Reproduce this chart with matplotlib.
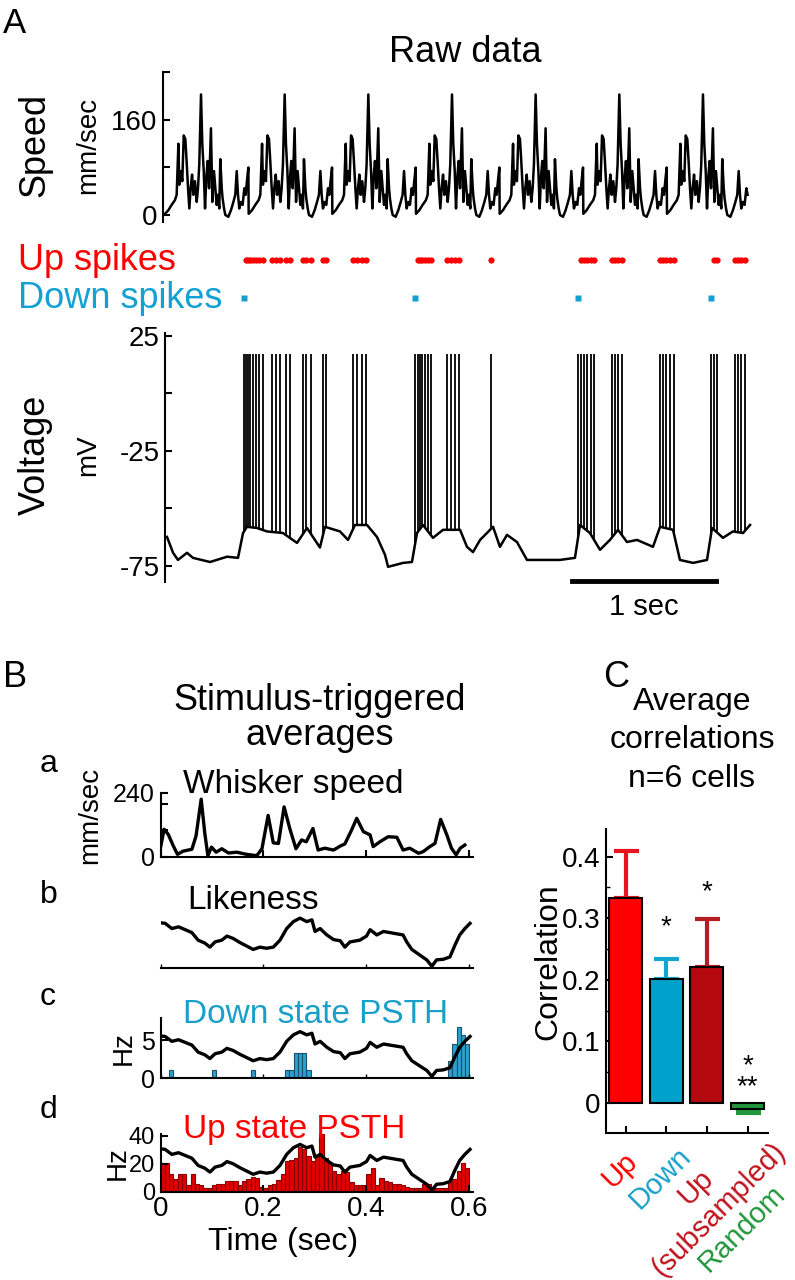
import numpy as np
import matplotlib
matplotlib.use("Agg")
import matplotlib.pyplot as plt

plt.rcParams['font.family'] = ['Liberation Sans', 'DejaVu Sans']

W, H = 795, 1280

# ---------------- panel A : raw data ----------------
# one stimulus cycle of whisker speed (time in cycle [s], mm/sec)
cycle_t = [0.000, 0.023, 0.046, 0.069, 0.081, 0.093, 0.099, 0.111, 0.120, 0.130,
           0.141, 0.150, 0.160, 0.169, 0.178, 0.188, 0.197, 0.208, 0.220, 0.229,
           0.238, 0.250, 0.259, 0.269, 0.278, 0.287, 0.296, 0.306, 0.319, 0.329,
           0.340, 0.350, 0.359, 0.368, 0.377, 0.384, 0.394, 0.400, 0.410, 0.419,
           0.440, 0.458, 0.475, 0.488, 0.498, 0.507, 0.516, 0.528, 0.539, 0.551,
           0.560, 0.569, 0.579]
cycle_speed = [2, 8, 17, 25, 34, 120, 51, 74, 57, 134,
               128, 91, 45, 11, 45, 68, 34, 57, 22, 45,
               85, 203, 120, 74, 11, 63, 91, 45, 146, 22,
               74, 45, 17, 34, 11, 94, 45, 28, 11, 0,
               -3, 8, 22, 34, 74, 34, 11, 22, 17, 45,
               34, 57, 80]
cycle_len = 0.581
n_cycles = 7
trace_end = 4.05

# membrane potential without the spikes (s, mV)
volt_t = [0.014, 0.056, 0.090, 0.153, 0.194, 0.313, 0.431, 0.507, 0.542, 0.569,
          0.639, 0.708, 0.819, 0.917, 0.986, 1.076, 1.111, 1.215, 1.271, 1.319,
          1.403, 1.472, 1.528, 1.549, 1.653, 1.715, 1.750, 1.792, 1.861, 1.931,
          2.049, 2.097, 2.139, 2.188, 2.278, 2.326, 2.375, 2.444, 2.514, 2.604,
          2.743, 2.847, 2.882, 2.951, 3.021, 3.090, 3.146, 3.208, 3.278, 3.389,
          3.438, 3.528, 3.576, 3.667, 3.764, 3.799, 3.875, 3.944, 4.014, 4.063]
volt_mv = [-62.4, -69.3, -72.4, -69.3, -71.5, -73.3, -71.0, -71.5, -60.7, -58.0,
           -58.5, -60.0, -60.7, -65.0, -58.5, -67.0, -58.0, -60.0, -63.7, -57.2,
           -57.2, -62.4, -70.2, -75.4, -73.7, -73.3, -60.7, -57.2, -62.8, -59.3,
           -59.3, -66.7, -69.0, -63.7, -58.0, -66.7, -61.5, -64.6, -72.4, -72.4,
           -72.4, -71.5, -57.2, -60.7, -68.0, -63.7, -59.3, -64.6, -63.7, -66.7,
           -58.0, -59.3, -72.4, -73.7, -72.4, -58.5, -62.8, -60.0, -60.7, -57.2]
down_spikes = [0.549, 1.736, 2.868, 3.792]
up_spikes = [0.562, 0.576, 0.590, 0.611, 0.632, 0.653, 0.681, 0.743, 0.771, 0.799,
             0.840, 0.868, 0.958, 0.979, 1.014, 1.097, 1.118, 1.306, 1.333, 1.368,
             1.396, 1.757, 1.771, 1.785, 1.806, 1.826, 1.847, 1.958, 1.986, 2.014,
             2.042, 2.264, 2.889, 2.910, 2.931, 2.958, 2.979, 3.104, 3.125, 3.146,
             3.174, 3.438, 3.458, 3.479, 3.507, 3.535, 3.813, 3.833, 3.958, 3.979,
             4.000, 4.028]
spike_peak = 17

# ---------------- panel B : stimulus-triggered averages ----------------
whisk_t = [0.000, 0.007, 0.015, 0.025, 0.033, 0.044, 0.061, 0.069, 0.079, 0.086,
           0.092, 0.099, 0.108, 0.119, 0.132, 0.148, 0.167, 0.187, 0.197, 0.209,
           0.219, 0.229, 0.240, 0.251, 0.263, 0.274, 0.283, 0.296, 0.306, 0.319,
           0.336, 0.349, 0.358, 0.371, 0.381, 0.394, 0.407, 0.413, 0.426, 0.442,
           0.459, 0.471, 0.484, 0.501, 0.510, 0.523, 0.533, 0.544, 0.556, 0.565,
           0.574, 0.582, 0.591]
whisk_speed = [35, 104, 85, 41, 10, 22, 29, 79, 217, 89,
               5, 37, 18, 31, 15, 18, 10, 5, 31, 156,
               53, 51, 188, 107, 31, 64, 57, 107, 26, 33,
               26, 41, 49, 101, 145, 95, 83, 39, 57, 76,
               74, 26, 33, 14, 20, 39, 51, 141, 83, 33,
               8, 33, 45]

like_t = [0.000, 0.009, 0.022, 0.035, 0.048, 0.061, 0.073, 0.086, 0.096, 0.106,
          0.119, 0.129, 0.141, 0.154, 0.167, 0.180, 0.193, 0.206, 0.219, 0.232,
          0.245, 0.258, 0.271, 0.284, 0.294, 0.300, 0.310, 0.323, 0.336, 0.349,
          0.358, 0.368, 0.387, 0.400, 0.407, 0.420, 0.433, 0.452, 0.471, 0.478,
          0.488, 0.504, 0.517, 0.527, 0.536, 0.549, 0.562, 0.572, 0.581, 0.591,
          0.601]
like_val = [0.78, 0.77, 0.68, 0.71, 0.66, 0.61, 0.48, 0.43, 0.36, 0.45,
            0.48, 0.55, 0.51, 0.44, 0.38, 0.32, 0.36, 0.34, 0.36, 0.48,
            0.68, 0.80, 0.86, 0.80, 0.83, 0.63, 0.68, 0.57, 0.49, 0.47,
            0.36, 0.45, 0.48, 0.55, 0.66, 0.57, 0.63, 0.60, 0.57, 0.45,
            0.32, 0.22, 0.14, 0.03, 0.14, 0.15, 0.19, 0.40, 0.57, 0.68,
            0.77]

bin_w = 1 / 120
down_psth = [0, 0, 1.0, 0, 0, 0, 0, 0, 0, 0,
             0, 0, 1.0, 0, 0, 0, 0, 0, 0, 0,
             0, 1.0, 0, 0, 0, 0, 0, 0, 0, 1.0,
             1.0, 3.3, 3.3, 3.3, 1.0, 0, 0, 0, 0, 0,
             0, 0, 0, 0, 0, 0, 0, 0, 0, 0,
             0, 0, 0, 0, 0, 0, 0, 0, 0, 0,
             0, 0, 0, 0, 0, 0, 0, 2.2, 4.5, 6.7,
             5.6, 4.5]
up_psth = [21, 21, 13, 9.5, 13, 13, 5, 13, 6, 5,
           3, 3, 5, 6, 6, 7.6, 7.6, 7.6, 5, 7.6,
           9.5, 10.7, 10, 3.6, 3, 5, 6, 8.3, 13, 22,
           23, 24, 32, 31, 26, 22, 26, 42, 24, 21,
           15, 13, 15, 14, 7, 5, 5, 5, 13, 17,
           5, 10, 8, 7, 6, 6, 5, 3.6, 3, 3,
           3, 6, 6, 3.6, 3, 3, 3, 7, 9.5, 15,
           21, 17]

# ---------------- panel C : average correlations ----------------
cat_labels = ["Up", "Down", "Up\n(subsampled)", "Random"]
corr_mean = [0.333, 0.201, 0.221, -0.010]
corr_err = [0.076, 0.033, 0.078, 0.006]
stars = ["", "*", "*", "*\n**"]
star_y = [0, 0.285, 0.342, 0.042]

RED = '#ff0000'
BLUE = '#00a2cc'
DARKRED = '#b4080e'
GREEN = '#22963c'

fig = plt.figure(figsize=(W / 100, H / 100), dpi=100)


def px_axes(l, t, r, b):
    return fig.add_axes([l / W, 1 - b / H, (r - l) / W, (b - t) / H])


def px_text(x, y, s, **kw):
    return fig.text(x / W, 1 - y / H, s, **kw)


def clean(ax, left=True, bottom=False, labelsize=20):
    for side in ['top', 'right']:
        ax.spines[side].set_visible(False)
    ax.spines['left'].set_visible(left)
    ax.spines['bottom'].set_visible(bottom)
    for sp in ax.spines.values():
        sp.set_linewidth(1.5)
    ax.tick_params(direction='in', length=5, width=1.5, labelsize=labelsize, pad=4)
    if not left:
        ax.set_yticks([])
    if not bottom:
        ax.set_xticks([])


# ---- A: speed
xl_a = (-0.0139, 4.132)
ax = px_axes(163, 70, 760, 222)
t_all = np.concatenate([np.array(cycle_t) + i * cycle_len for i in range(n_cycles)])
s_all = np.tile(cycle_speed, n_cycles)
keep = t_all <= trace_end
ax.plot(t_all[keep], s_all[keep], color='black', lw=1.8)
ax.set_xlim(*xl_a)
ax.set_ylim(-11.8, 244.2)
clean(ax)
ax.spines['left'].set_bounds(-11.8, 240)
ax.set_yticks([0, 80, 160, 240])
ax.set_yticklabels(['0', '', '160', ''])

# ---- A: spike rasters
ax = px_axes(163, 240, 760, 315)
ax.plot(up_spikes, np.ones(len(up_spikes)), 'o', color=RED, ms=4.5, mec='none')
ax.plot(down_spikes, np.zeros(len(down_spikes)), 's', color='#14a0d2', ms=4, mec='none')
ax.set_xlim(*xl_a)
ax.set_ylim(-0.447, 1.526)
ax.axis('off')

# ---- A: voltage
ax = px_axes(165, 333, 760, 582)
ax.plot(volt_t, volt_mv, color='black', lw=1.8)
spk = np.array(down_spikes + up_spikes)
ax.vlines(spk, np.interp(spk, volt_t, volt_mv), spike_peak, color='black', lw=1.3)
ax.plot([2.826, 3.826], [-81.5, -81.5], color='black', lw=3.5, clip_on=False)
ax.set_xlim(0, 4.132)
ax.set_ylim(-82, 26.3)
clean(ax)
ax.set_yticks([25, 0, -25, -50, -75])
ax.set_yticklabels(['25', '', '-25', '', '-75'])

px_text(3, 33, 'A', fontsize=25, va='baseline')
px_text(465, 52, 'Raw data', fontsize=26, ha='center', va='center')
px_text(35, 145, 'Speed', fontsize=26, rotation=90, ha='center', va='center')
px_text(88, 145, 'mm/sec', fontsize=20, rotation=90, ha='center', va='center')
px_text(18, 260, 'Up spikes', fontsize=26, color=RED, va='center')
px_text(18, 298, 'Down spikes', fontsize=26, color='#14a0d2', va='center')
px_text(35, 455, 'Voltage', fontsize=26, rotation=90, ha='center', va='center')
px_text(88, 455, 'mV', fontsize=20, rotation=90, ha='center', va='center')
px_text(644, 607, '1 sec', fontsize=21, ha='center', va='center')

# ---- B
xl_b = (0, 0.6068)
xt_b = [0, 0.2, 0.4, 0.6]
centers = (np.arange(len(up_psth)) + 0.5) * bin_w

ax = px_axes(160.5, 793, 473, 857)
ax.plot(whisk_t, whisk_speed, color='black', lw=2.4)
ax.set_xlim(*xl_b)
ax.set_ylim(0, 240)
clean(ax, bottom=True, labelsize=18)
ax.set_yticks([0, 100, 200, 240])
ax.set_yticklabels(['0', '', '', '240'])
ax.set_xticks(xt_b)
ax.set_xticklabels([])

ax = px_axes(160.5, 910, 473, 968)
ax.plot(like_t, like_val, color='black', lw=2.4)
ax.set_xlim(*xl_b)
ax.set_ylim(0, 1)
clean(ax, left=False, bottom=True)
ax.set_xticks(xt_b)
ax.set_xticklabels([])
ax.tick_params(axis='x', length=3, width=1)

ax = px_axes(160.5, 1018, 473, 1078)
ax.bar(centers, down_psth, width=bin_w, color='#2aa0cc', edgecolor='#1a4f70', lw=0.8)
ax.plot(like_t, np.array(like_val) * 7.1, color='black', lw=2.4)
ax.set_xlim(*xl_b)
ax.set_ylim(0, 7.9)
clean(ax, bottom=True, labelsize=18)
ax.set_yticks([0, 5])
ax.set_xticks(xt_b)
ax.set_xticklabels([])
ax.tick_params(axis='x', length=3, width=1)

ax = px_axes(160.5, 1134, 473, 1192)
ax.bar(centers, up_psth, width=bin_w, color='#e00000', edgecolor='#8a0000', lw=0.8)
ax.plot(like_t, np.array(like_val) * 39.5, color='black', lw=2.4)
ax.set_xlim(*xl_b)
ax.set_ylim(0, 41.4)
clean(ax, bottom=True, labelsize=17)
ax.set_yticks([0, 20, 40])
ax.set_xticks(xt_b)
ax.set_xticklabels(['0', '0.2', '0.4', '0.6'])
ax.tick_params(axis='x', labelsize=20, pad=3)

px_text(3, 687, 'B', fontsize=26, va='baseline')
px_text(320, 710, 'Stimulus-triggered', fontsize=26, ha='center', va='baseline')
px_text(320, 745, 'averages', fontsize=26, ha='center', va='baseline')
px_text(40, 772, 'a', fontsize=23, va='baseline')
px_text(40, 903, 'b', fontsize=23, va='baseline')
px_text(40, 1005, 'c', fontsize=23, va='baseline')
px_text(40, 1118, 'd', fontsize=23, va='baseline')
px_text(90, 815, 'mm/sec', fontsize=20, rotation=90, ha='center', va='center')
px_text(183, 793, 'Whisker speed', fontsize=24, va='baseline')
px_text(187, 909, 'Likeness', fontsize=24, va='baseline')
px_text(183, 1023, 'Down state PSTH', fontsize=24, va='baseline', color='#1aa0c8')
px_text(183, 1138, 'Up state PSTH', fontsize=24, va='baseline', color=RED)
px_text(124, 1048, 'Hz', fontsize=20, rotation=90, ha='center', va='center')
px_text(118, 1163, 'Hz', fontsize=20, rotation=90, ha='center', va='center')
px_text(283, 1250, 'Time (sec)', fontsize=23, ha='center', va='baseline')

# ---- C
ax = px_axes(606, 829, 768, 1133)
xs = [1, 2, 3, 4]
bar_colors = [RED, BLUE, DARKRED, GREEN]
err_colors = ['#e8141e', '#10a8d0', '#b41e23', GREEN]
ax.bar(xs, corr_mean, width=0.81, color=bar_colors, edgecolor='black', lw=1.5, zorder=2)
for x, m, e, c in zip(xs, corr_mean, corr_err, err_colors):
    lo, hi = (0, e) if m >= 0 else (e, 0)
    ax.errorbar(x, m, yerr=[[lo], [hi]], color=c, lw=3, capsize=9, capthick=3, zorder=1)
for x, s, y in zip(xs, stars, star_y):
    if s:
        ax.text(x, y, s, fontsize=20, ha='center', va='center', linespacing=0.75)
ax.set_xlim(0.52, 4.5)
ax.set_ylim(-0.049, 0.445)
clean(ax, bottom=True)
ax.set_xticks(xs)
ax.set_xticklabels([])
ax.set_yticks([0, 0.1, 0.2, 0.3, 0.4])
ax.set_yticklabels(['0', '0.1', '0.2', '0.3', '0.4'])
ax.set_yticks([0.05, 0.15, 0.25, 0.35], minor=True)
ax.tick_params(which='minor', direction='in', length=3, width=1)

px_text(603, 687, 'C', fontsize=26, va='baseline')
px_text(692, 710, 'Average', fontsize=23, ha='center', va='baseline')
px_text(692, 748, 'correlations', fontsize=23, ha='center', va='baseline')
px_text(692, 787, 'n=6 cells', fontsize=23, ha='center', va='baseline')
px_text(548, 962, 'Correlation', fontsize=23, rotation=90, ha='center', va='center')

label_pos = [(620, 1170), (660, 1178), (707, 1198), (742, 1228)]
label_cols = [RED, '#1aa0c8', '#c0141e', GREEN]
for (x, y), s, c in zip(label_pos, cat_labels, label_cols):
    px_text(x, y, s, fontsize=21, color=c, rotation=45, rotation_mode='anchor',
            ha='center', va='center', multialignment='center')

fig.savefig('out.png', dpi=100)
